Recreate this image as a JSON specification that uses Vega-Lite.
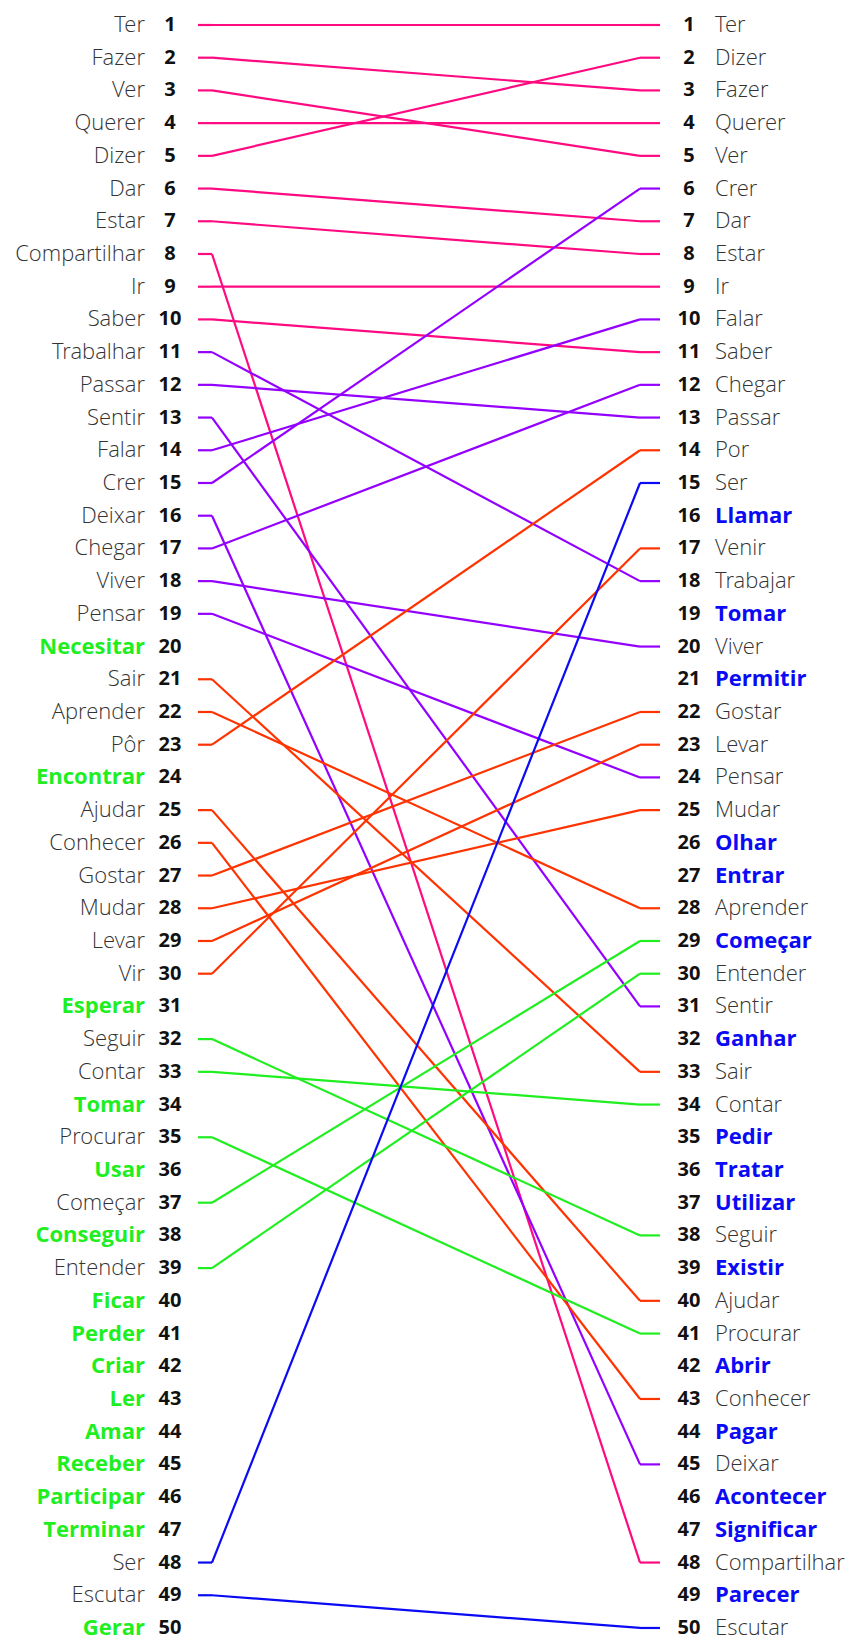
{
  "$schema": "https://vega.github.io/schema/vega-lite/v6.json",
  "width": 861,
  "height": 1637,
  "padding": 0,
  "autosize": {"type": "none"},
  "background": "#ffffff",
  "config": {"view": {"stroke": null}},
  "datasets": {
    "left": [
      {"rank": 1, "word": "Ter", "r": 1},
      {"rank": 2, "word": "Fazer", "r": 3},
      {"rank": 3, "word": "Ver", "r": 5},
      {"rank": 4, "word": "Querer", "r": 4},
      {"rank": 5, "word": "Dizer", "r": 2},
      {"rank": 6, "word": "Dar", "r": 7},
      {"rank": 7, "word": "Estar", "r": 8},
      {"rank": 8, "word": "Compartilhar", "r": 48},
      {"rank": 9, "word": "Ir", "r": 9},
      {"rank": 10, "word": "Saber", "r": 11},
      {"rank": 11, "word": "Trabalhar", "r": 18},
      {"rank": 12, "word": "Passar", "r": 13},
      {"rank": 13, "word": "Sentir", "r": 31},
      {"rank": 14, "word": "Falar", "r": 10},
      {"rank": 15, "word": "Crer", "r": 6},
      {"rank": 16, "word": "Deixar", "r": 45},
      {"rank": 17, "word": "Chegar", "r": 12},
      {"rank": 18, "word": "Viver", "r": 20},
      {"rank": 19, "word": "Pensar", "r": 24},
      {"rank": 20, "word": "Necesitar", "r": null},
      {"rank": 21, "word": "Sair", "r": 33},
      {"rank": 22, "word": "Aprender", "r": 28},
      {"rank": 23, "word": "Pôr", "r": 14},
      {"rank": 24, "word": "Encontrar", "r": null},
      {"rank": 25, "word": "Ajudar", "r": 40},
      {"rank": 26, "word": "Conhecer", "r": 43},
      {"rank": 27, "word": "Gostar", "r": 22},
      {"rank": 28, "word": "Mudar", "r": 25},
      {"rank": 29, "word": "Levar", "r": 23},
      {"rank": 30, "word": "Vir", "r": 17},
      {"rank": 31, "word": "Esperar", "r": null},
      {"rank": 32, "word": "Seguir", "r": 38},
      {"rank": 33, "word": "Contar", "r": 34},
      {"rank": 34, "word": "Tomar", "r": null},
      {"rank": 35, "word": "Procurar", "r": 41},
      {"rank": 36, "word": "Usar", "r": null},
      {"rank": 37, "word": "Começar", "r": 29},
      {"rank": 38, "word": "Conseguir", "r": null},
      {"rank": 39, "word": "Entender", "r": 30},
      {"rank": 40, "word": "Ficar", "r": null},
      {"rank": 41, "word": "Perder", "r": null},
      {"rank": 42, "word": "Criar", "r": null},
      {"rank": 43, "word": "Ler", "r": null},
      {"rank": 44, "word": "Amar", "r": null},
      {"rank": 45, "word": "Receber", "r": null},
      {"rank": 46, "word": "Participar", "r": null},
      {"rank": 47, "word": "Terminar", "r": null},
      {"rank": 48, "word": "Ser", "r": 15},
      {"rank": 49, "word": "Escutar", "r": 50},
      {"rank": 50, "word": "Gerar", "r": null}
    ],
    "right": [
      {"rank": 1, "word": "Ter", "new": false},
      {"rank": 2, "word": "Dizer", "new": false},
      {"rank": 3, "word": "Fazer", "new": false},
      {"rank": 4, "word": "Querer", "new": false},
      {"rank": 5, "word": "Ver", "new": false},
      {"rank": 6, "word": "Crer", "new": false},
      {"rank": 7, "word": "Dar", "new": false},
      {"rank": 8, "word": "Estar", "new": false},
      {"rank": 9, "word": "Ir", "new": false},
      {"rank": 10, "word": "Falar", "new": false},
      {"rank": 11, "word": "Saber", "new": false},
      {"rank": 12, "word": "Chegar", "new": false},
      {"rank": 13, "word": "Passar", "new": false},
      {"rank": 14, "word": "Por", "new": false},
      {"rank": 15, "word": "Ser", "new": false},
      {"rank": 16, "word": "Llamar", "new": true},
      {"rank": 17, "word": "Venir", "new": false},
      {"rank": 18, "word": "Trabajar", "new": false},
      {"rank": 19, "word": "Tomar", "new": true},
      {"rank": 20, "word": "Viver", "new": false},
      {"rank": 21, "word": "Permitir", "new": true},
      {"rank": 22, "word": "Gostar", "new": false},
      {"rank": 23, "word": "Levar", "new": false},
      {"rank": 24, "word": "Pensar", "new": false},
      {"rank": 25, "word": "Mudar", "new": false},
      {"rank": 26, "word": "Olhar", "new": true},
      {"rank": 27, "word": "Entrar", "new": true},
      {"rank": 28, "word": "Aprender", "new": false},
      {"rank": 29, "word": "Começar", "new": true},
      {"rank": 30, "word": "Entender", "new": false},
      {"rank": 31, "word": "Sentir", "new": false},
      {"rank": 32, "word": "Ganhar", "new": true},
      {"rank": 33, "word": "Sair", "new": false},
      {"rank": 34, "word": "Contar", "new": false},
      {"rank": 35, "word": "Pedir", "new": true},
      {"rank": 36, "word": "Tratar", "new": true},
      {"rank": 37, "word": "Utilizar", "new": true},
      {"rank": 38, "word": "Seguir", "new": false},
      {"rank": 39, "word": "Existir", "new": true},
      {"rank": 40, "word": "Ajudar", "new": false},
      {"rank": 41, "word": "Procurar", "new": false},
      {"rank": 42, "word": "Abrir", "new": true},
      {"rank": 43, "word": "Conhecer", "new": false},
      {"rank": 44, "word": "Pagar", "new": true},
      {"rank": 45, "word": "Deixar", "new": false},
      {"rank": 46, "word": "Acontecer", "new": true},
      {"rank": 47, "word": "Significar", "new": true},
      {"rank": 48, "word": "Compartilhar", "new": false},
      {"rank": 49, "word": "Parecer", "new": true},
      {"rank": 50, "word": "Escutar", "new": false}
    ]
  },
  "encoding": {
    "y": {"type": "quantitative", "scale": {"domain": [0.236, 50.276], "reverse": true, "nice": false, "zero": false}, "axis": null}
  },
  "layer": [
    {
      "data": {"name": "left"},
      "transform": [{"filter": "datum.r != null"}],
      "mark": {"type": "rule", "strokeWidth": 2.2},
      "encoding": {
        "x": {"datum": 198, "type": "quantitative", "scale": {"domain": [0, 861], "nice": false, "zero": false}, "axis": null},
        "x2": {"datum": 212},
        "y": {"field": "rank", "type": "quantitative"},
        "color": {"field": "rank", "type": "quantitative", "scale": {"type": "threshold", "domain": [10.5, 20.5, 30.5, 40.5], "range": ["#ff0a80", "#9400ff", "#ff3300", "#1fee1f", "#0a0af5"]}, "legend": null}
      }
    },
    {
      "data": {"name": "left"},
      "transform": [{"filter": "datum.r != null"}],
      "mark": {"type": "rule", "strokeWidth": 2.2},
      "encoding": {
        "x": {"datum": 212, "type": "quantitative"},
        "x2": {"datum": 640},
        "y": {"field": "rank", "type": "quantitative"},
        "y2": {"field": "r"},
        "color": {"field": "rank", "type": "quantitative", "scale": {"type": "threshold", "domain": [10.5, 20.5, 30.5, 40.5], "range": ["#ff0a80", "#9400ff", "#ff3300", "#1fee1f", "#0a0af5"]}, "legend": null}
      }
    },
    {
      "data": {"name": "left"},
      "transform": [{"filter": "datum.r != null"}],
      "mark": {"type": "rule", "strokeWidth": 2.2},
      "encoding": {
        "x": {"datum": 640, "type": "quantitative"},
        "x2": {"datum": 660},
        "y": {"field": "r", "type": "quantitative"},
        "color": {"field": "rank", "type": "quantitative", "scale": {"type": "threshold", "domain": [10.5, 20.5, 30.5, 40.5], "range": ["#ff0a80", "#9400ff", "#ff3300", "#1fee1f", "#0a0af5"]}, "legend": null}
      }
    },
    {
      "data": {"name": "left"},
      "transform": [{"filter": "datum.r != null"}],
      "mark": {"type": "text", "align": "right", "baseline": "middle", "font": "Open Sans Light, Open Sans", "fontWeight": 300, "fontSize": 22, "color": "#333333"},
      "encoding": {
        "x": {"datum": 145, "type": "quantitative"},
        "y": {"field": "rank", "type": "quantitative"},
        "text": {"field": "word"}
      }
    },
    {
      "data": {"name": "left"},
      "transform": [{"filter": "datum.r == null"}],
      "mark": {"type": "text", "align": "right", "baseline": "middle", "font": "Open Sans", "fontWeight": "bold", "fontSize": 22, "color": "#1fee1f"},
      "encoding": {
        "x": {"datum": 145, "type": "quantitative"},
        "y": {"field": "rank", "type": "quantitative"},
        "text": {"field": "word"}
      }
    },
    {
      "data": {"name": "left"},
      "mark": {"type": "text", "align": "center", "baseline": "middle", "font": "Open Sans", "fontWeight": "bold", "fontSize": 20, "color": "#111111"},
      "encoding": {
        "x": {"datum": 170, "type": "quantitative"},
        "y": {"field": "rank", "type": "quantitative"},
        "text": {"field": "rank"}
      }
    },
    {
      "data": {"name": "right"},
      "mark": {"type": "text", "align": "center", "baseline": "middle", "font": "Open Sans", "fontWeight": "bold", "fontSize": 20, "color": "#111111"},
      "encoding": {
        "x": {"datum": 689, "type": "quantitative"},
        "y": {"field": "rank", "type": "quantitative"},
        "text": {"field": "rank"}
      }
    },
    {
      "data": {"name": "right"},
      "transform": [{"filter": "!datum.new"}],
      "mark": {"type": "text", "align": "left", "baseline": "middle", "font": "Open Sans Light, Open Sans", "fontWeight": 300, "fontSize": 22, "color": "#333333"},
      "encoding": {
        "x": {"datum": 715, "type": "quantitative"},
        "y": {"field": "rank", "type": "quantitative"},
        "text": {"field": "word"}
      }
    },
    {
      "data": {"name": "right"},
      "transform": [{"filter": "datum.new"}],
      "mark": {"type": "text", "align": "left", "baseline": "middle", "font": "Open Sans", "fontWeight": "bold", "fontSize": 22, "color": "#0a0af5"},
      "encoding": {
        "x": {"datum": 715, "type": "quantitative"},
        "y": {"field": "rank", "type": "quantitative"},
        "text": {"field": "word"}
      }
    }
  ]
}
